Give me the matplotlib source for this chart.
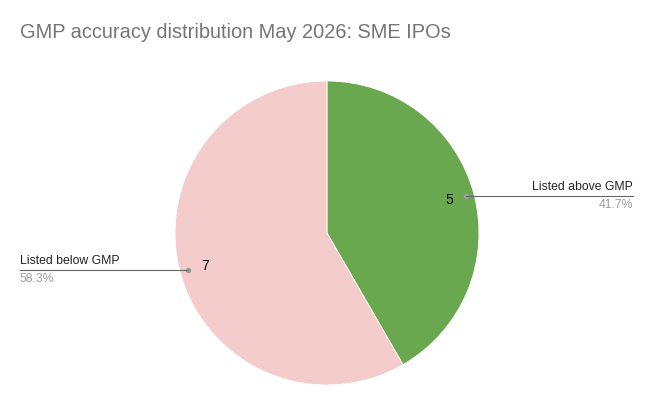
import numpy as np
import matplotlib
matplotlib.use("Agg")
import matplotlib.pyplot as plt

plt.rcParams['font.family'] = ['Liberation Sans', 'DejaVu Sans']

title = "GMP accuracy distribution May 2026: SME IPOs"
categories = ["Listed above GMP", "Listed below GMP"]
counts = [5, 7]
colors = ["#6aa84f", "#f4cccc"]

W, H = 654, 405
fig = plt.figure(figsize=(W / 100, H / 100), dpi=100)
ax = fig.add_axes([0, 0, 1, 1])

cx, cy, r = 327, H - 233, 152
wedges, _ = ax.pie(counts, colors=colors, startangle=90, counterclock=False,
                   center=(cx, cy), radius=r, frame=True,
                   wedgeprops=dict(edgecolor='white', linewidth=0.6))
ax.set_xlim(0, W)
ax.set_ylim(0, H)
ax.set_aspect('equal')
ax.axis('off')

total = sum(counts)
for w, name, n in zip(wedges, categories, counts):
    ang = np.deg2rad((w.theta1 + w.theta2) / 2)
    ca, sa = np.cos(ang), np.sin(ang)
    ax.text(cx + 0.83 * r * ca, cy + 0.83 * r * sa, str(n),
            ha='center', va='center', fontsize=10, color='black')
    dx, dy = cx + 0.95 * r * ca, cy + 0.95 * r * sa
    ax.plot(dx, dy, 'o', color='#9e9e9e', markersize=3)
    pct = f"{100 * n / total:.1f}%"
    if ca > 0:
        x_end = 633
        ax.plot([dx, x_end], [dy, dy], color='#666666', lw=0.8)
        ax.text(x_end, dy + 3, name, ha='right', va='bottom', fontsize=8.8, color='#222222')
        ax.text(x_end, dy - 3, pct, ha='right', va='top', fontsize=8.8, color='#9e9e9e')
    else:
        x_end = 20
        ax.plot([x_end, dx], [dy, dy], color='#666666', lw=0.8)
        ax.text(x_end, dy + 3, name, ha='left', va='bottom', fontsize=8.8, color='#222222')
        ax.text(x_end, dy - 3, pct, ha='left', va='top', fontsize=8.8, color='#9e9e9e')

ax.text(20, H - 33, title, ha='left', va='center', fontsize=14.4, color='#757575')

fig.savefig("out.png", dpi=100)
